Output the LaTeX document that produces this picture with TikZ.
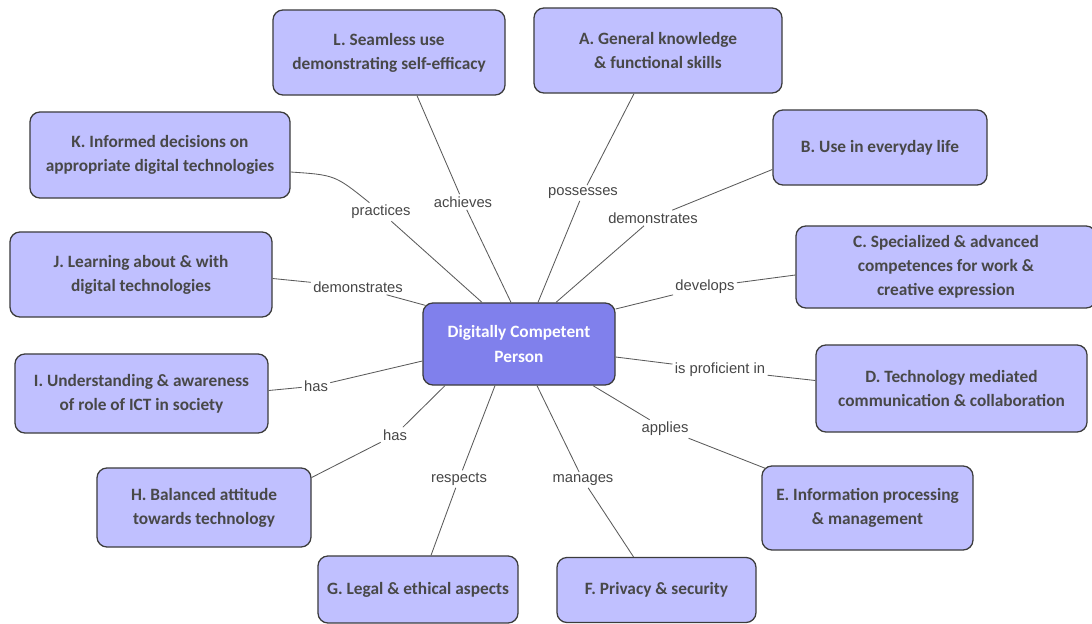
\documentclass[tikz,border=0pt]{standalone}
\usepackage{fontspec}
\setmainfont{Carlito}
\newfontfamily\verbfont{Liberation Sans}
\usepackage{tikz}
\usetikzlibrary{calc}

\definecolor{boxfill}{RGB}{192,192,255}
\definecolor{ctrfill}{RGB}{128,128,236}
\definecolor{boxline}{RGB}{60,60,60}
\definecolor{boxtext}{RGB}{72,72,72}
\definecolor{linkcol}{RGB}{90,90,90}
\definecolor{verbtext}{RGB}{70,70,70}

\begin{document}
\begin{tikzpicture}[x=0.025cm,y=-0.025cm,
  topic/.style={draw=boxline,line width=0.9pt,fill=boxfill,rounded corners=0.25cm,
    align=center,text=boxtext,inner sep=0pt,
    font=\fontsize{12.3}{17.2}\selectfont\bfseries},
  verb/.style={text=verbtext,inner sep=1.5pt,font=\verbfont\fontsize{10.5}{12}\selectfont},
  link/.style={draw=linkcol,line width=0.6pt}]

\useasboundingbox (0,0) rectangle (1092,624);

% Centre
\node[topic,fill=ctrfill,text=white,minimum width=4.8cm,minimum height=2.05cm] (ctr) at (519,344) {Digitally Competent\\Person};

% Topics
\node[topic,minimum width=5.8cm,minimum height=2.125cm] (L) at (389,52.5) {L. Seamless use\\demonstrating self-efficacy};
\node[topic,minimum width=6.2cm,minimum height=2.125cm] (A) at (658,50.5) {A. General knowledge\\\& functional skills};
\node[topic,minimum width=5.35cm,minimum height=1.875cm] (B) at (880,147.5) {B. Use in everyday life};
\node[topic,minimum width=7.5cm,minimum height=2.05cm] (C) at (946,267) {C. Specialized \& advanced\\competences for work \&\\creative expression};
\node[topic,minimum width=6.775cm,minimum height=2.175cm] (D) at (951.5,388.5) {D. Technology mediated\\communication \& collaboration};
\node[topic,minimum width=5.275cm,minimum height=2.1cm] (E) at (867.5,508) {E. Information processing\\\& management};
\node[topic,minimum width=4.975cm,minimum height=1.625cm] (F) at (656.5,590) {F. Privacy \& security};
\node[topic,minimum width=5cm,minimum height=1.675cm] (G) at (418,589.5) {G. Legal \& ethical aspects};
\node[topic,minimum width=5.35cm,minimum height=1.975cm] (H) at (204,507.5) {H. Balanced attitude\\towards technology};
\node[topic,minimum width=6.325cm,minimum height=1.975cm] (I) at (141.5,393.5) {I. Understanding \& awareness\\of role of ICT in society};
\node[topic,minimum width=6.55cm,minimum height=2.125cm] (J) at (141,274.5) {J. Learning about \& with\\digital technologies};
\node[topic,minimum width=6.5cm,minimum height=2.15cm] (K) at (160,155) {K. Informed decisions on\\appropriate digital technologies};

% Verbs
\node[verb] (achv) at (463,202) {achieves};
\node[verb] (poss) at (583,193) {possesses};
\node[verb] (demB) at (653,218) {demonstrates};
\node[verb] (dev) at (705,287) {develops};
\node[verb] (prof) at (720,370) {is proficient in};
\node[verb] (appl) at (665,429) {applies};
\node[verb] (mng) at (583,480) {manages};
\node[verb] (resp) at (459,479) {respects};
\node[verb] (hasH) at (395,435) {has};
\node[verb] (hasI) at (316,386) {has};
\node[verb] (demJ) at (358,287) {demonstrates};
\node[verb] (prac) at (381,212) {practices};

% Links, top half
\draw[link] ($(L.south)+(28,0)$) -- (achv) -- ($(ctr.north)+(-8,0)$);
\draw[link] ($(A.south)+(-24,0)$) -- (poss) -- ($(ctr.north)+(19,0)$);
\draw[link] ($(B.west)+(0,22)$) -- (demB) -- ($(ctr.north)+(37,0)$);
\draw[link] ($(ctr.east)+(0,-35)$) -- (dev) -- ($(C.west)+(0,8)$);
\draw[link] ($(K.east)+(0,17)$) .. controls (335,175) .. (prac);
\draw[link] (prac) -- ($(ctr.north)+(-37,0)$);
\draw[link] ($(J.east)+(0,4)$) -- (demJ) -- ($(ctr.north west)+(3,3)$);

% Links, bottom half
\draw[link] ($(ctr.east)+(0,13)$) -- (prof) -- ($(D.west)+(0,-8)$);
\draw[link] ($(ctr.south)+(74,0)$) -- (appl) -- ($(E.north west)+(4,3)$);
\draw[link] ($(ctr.south)+(18,0)$) -- (mng) -- ($(F.north)+(-23,0)$);
\draw[link] ($(ctr.south)+(-24,0)$) -- (resp) -- ($(G.north)+(13,0)$);
\draw[link] ($(ctr.south)+(-74,0)$) -- (hasH) -- ($(H.east)+(0,-30)$);
\draw[link] ($(ctr.west)+(0,17)$) -- (hasI) -- ($(I.east)+(0,-3)$);

\end{tikzpicture}
\end{document}
